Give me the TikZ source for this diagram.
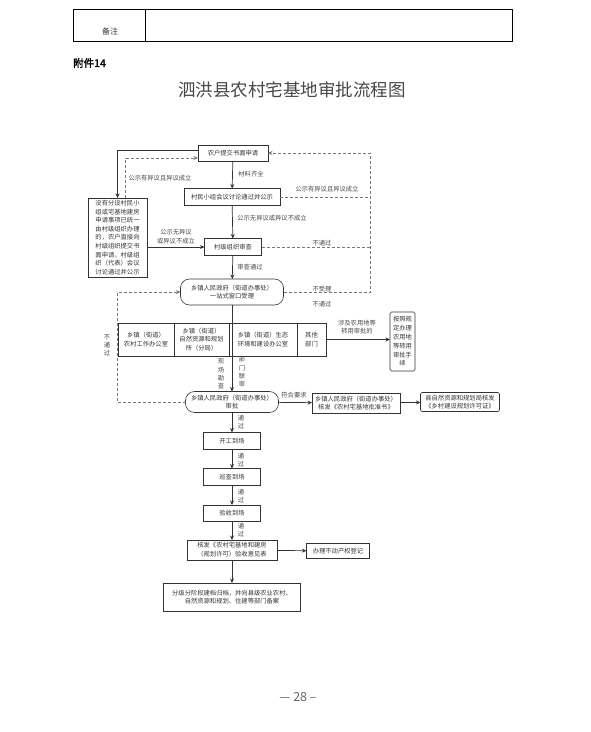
\documentclass[tikz,border=0pt]{standalone}
\usepackage{fontspec}
\setmainfont{Noto Sans CJK SC}
\newfontfamily\cjkbold[FakeBold=2]{Noto Sans CJK SC}
\usetikzlibrary{arrows.meta}
\newcommand\myfs{\fontsize{6.3}{8.8}\selectfont}
\definecolor{ink}{HTML}{333333}
\definecolor{dash}{HTML}{777777}
\tikzset{
  box/.style={draw=ink, line width=0.6pt, align=center, font=\myfs, text=ink, inner sep=1pt, outer sep=0pt},
  rbox/.style={box, rounded corners=9pt},
  sbox/.style={box, rounded corners=1.5pt},
  cell/.style={box, minimum height=33, inner sep=0pt},
  lbl/.style={font=\myfs, text=ink!90, align=center, inner sep=0pt},
  arr/.style={draw=ink, line width=0.7pt, -{Stealth[length=4.5pt,width=4pt]}},
  dline/.style={draw=dash, line width=0.7pt, dash pattern=on 3pt off 2pt},
  darr/.style={dline, -{Stealth[length=4.5pt,width=4pt]}}
}
\begin{document}
\begin{tikzpicture}[x=1pt,y=-1pt]
\useasboundingbox (0,0) rectangle (591,732);
% table
\draw[line width=0.9pt] (73,9) rectangle (512,41);
\draw[line width=0.9pt] (145,9) -- (145,41);
\node[font=\fontsize{8}{9}\selectfont, text=ink] (bz) at (110,31) {备注};
\node[anchor=west, font=\fontsize{10.5}{12}\selectfont\cjkbold, inner sep=0pt] (fj) at (73,63) {附件14};
\node[font=\fontsize{17.5}{20}\selectfont, text=black!72] (title) at (292,90) {泗洪县农村宅基地审批流程图};

% main nodes
\node[box, minimum width=70, minimum height=16] (n1) at (233,153) {农户提交书面申请};
\node[box, minimum width=96, minimum height=17] (n2) at (232,197) {村民小组会议讨论通过并公示};
\node[box, minimum width=57, minimum height=17] (n3) at (233,247) {村级组织审查};
\node[rbox, minimum width=103, minimum height=26] (n4) at (232,292) {乡镇人民政府（街道办事处）\\一站式窗口受理};
\node[cell, minimum width=56] (c1) at (146,339.5) {乡镇（街道）\\农村工作办公室};
\node[cell, minimum width=55] (c2) at (201.5,339.5) {乡镇（街道）\\自然资源和规划\\所（分局）};
\node[cell, minimum width=68] (c3) at (263,339.5) {乡镇（街道）生态\\环境和建设办公室};
\node[cell, minimum width=29] (c4) at (311.5,339.5) {其他\\部门};
\node[rbox, minimum width=93, minimum height=21] (n5) at (232,402) {乡镇人民政府（街道办事处）\\审批};
\node[box, minimum width=88, minimum height=20] (n6) at (356,403) {乡镇人民政府（街道办事处）\\核发《农村宅基地批准书》};
\node[sbox, minimum width=79, minimum height=19] (n7) at (460,402) {县自然资源和规划局核发\\《乡村建设规划许可证》};
\node[box, minimum width=57, minimum height=17] (n9) at (232,441) {开工到场};
\node[box, minimum width=57, minimum height=17] (n10) at (232,477) {巡查到场};
\node[box, minimum width=57, minimum height=16] (n11) at (232,513) {验收到场};
\node[box, minimum width=90, minimum height=20] (n12) at (232,550) {核发《农村宅基地和建房\\（规划许可）验收意见表};
\node[box, minimum width=63, minimum height=15] (n13) at (338,551) {办理不动产权登记};
\node[box, minimum width=137, minimum height=28] (n14) at (232,597) {分级分阶段建档归档，并向县级农业农村、\\自然资源和规划、住建等部门备案};
\node[box, minimum width=59, minimum height=79, font=\fontsize{6.3}{8.6}\selectfont] (L) at (117.5,237.5) {没有分设村民小\\组或宅基地建房\\申请事项已统一\\由村级组织办理\\的，农户直接向\\村级组织提交书\\面申请，村级组\\织（代表）会议\\讨论通过并公示};
\node[sbox, minimum width=25, minimum height=59] (R) at (402.5,341.5) {按照规\\定办理\\农用地\\等转用\\审批手\\续};

% coordinates for dashed return lines
\coordinate (rc) at (370,153);
\coordinate (lc) at (117,292);

% main connectors
\draw[arr] (n1) -- (n2);
\draw[arr] (n2) -- (n3);
\draw[arr] (n3) -- (n4);
\draw[arr] (n4) -- (n5);
\draw[arr] (n5) -- (n6);
\draw[arr] (n6) -- (n7);
\draw[arr] (n5) -- (n9);
\draw[arr] (n9) -- (n10);
\draw[arr] (n10) -- (n11);
\draw[arr] (n11) -- (n12);
\draw[arr] (n12) -- (n14);
\draw[arr] (n12) -- (n13);
\draw[arr] (c4.east) -- (c4.east -| R.west);
\draw[arr] (L.east |- n3.west) -- (n3.west);
\draw[arr] ([yshift=2.5pt]n1.west) -| (L.north);
\draw[darr] ([xshift=8pt]L.north) |- ([yshift=-5pt]n1.west);

% dashed returns on the right
\draw[darr] (n4.east) -| (rc) -- (n1.east);
\draw[dline] (n2.east) -- (n2.east -| rc);
\draw[dline] (n3.east) -- (n3.east -| rc);
% dashed return on the left
\draw[darr] (n5.west) -| (lc) -- (n4.west);

% labels
\node[lbl] (t1) at (251,174) {材料齐全};
\node[lbl] (t2) at (272,218) {公示无异议或异议不成立};
\node[lbl] (t3) at (250,267) {审查通过};
\node[lbl] (t4) at (160,178) {公示有异议且异议成立};
\node[lbl] (t5) at (327,189) {公示有异议且异议成立};
\node[lbl] (t6) at (322,243) {不通过};
\node[lbl] (t7) at (322,289) {不受理};
\node[lbl] (t8) at (322,304) {不通过};
\node[lbl] (t9) at (176,237) {公示无异议\\或异议不成立};
\node[lbl, font=\fontsize{6.3}{8}\selectfont] (t10) at (107,345) {不\\通\\过};
\node[lbl, font=\fontsize{6.3}{8.3}\selectfont] (t11) at (221,374) {现\\场\\勘\\查};
\node[lbl, font=\fontsize{6.3}{8.3}\selectfont] (t12) at (242,372) {部\\门\\联\\审};
\node[lbl] (t13) at (357,327) {涉及农用地等\\转用审批的};
\node[lbl] (t14) at (294,395) {符合要求};
\node[lbl, font=\fontsize{6.3}{8.5}\selectfont] (p1) at (241,422) {通\\过};
\node[lbl, font=\fontsize{6.3}{8.5}\selectfont] (p2) at (241,460) {通\\过};
\node[lbl, font=\fontsize{6.3}{8.5}\selectfont] (p3) at (241,496) {通\\过};
\node[lbl, font=\fontsize{6.3}{8.5}\selectfont] (p4) at (241,530) {通\\过};

% page number
\node[font=\fontsize{12.5}{14}\selectfont, text=black!60] (pg) at (298,697) {— 28 –};
\end{tikzpicture}
\end{document}
